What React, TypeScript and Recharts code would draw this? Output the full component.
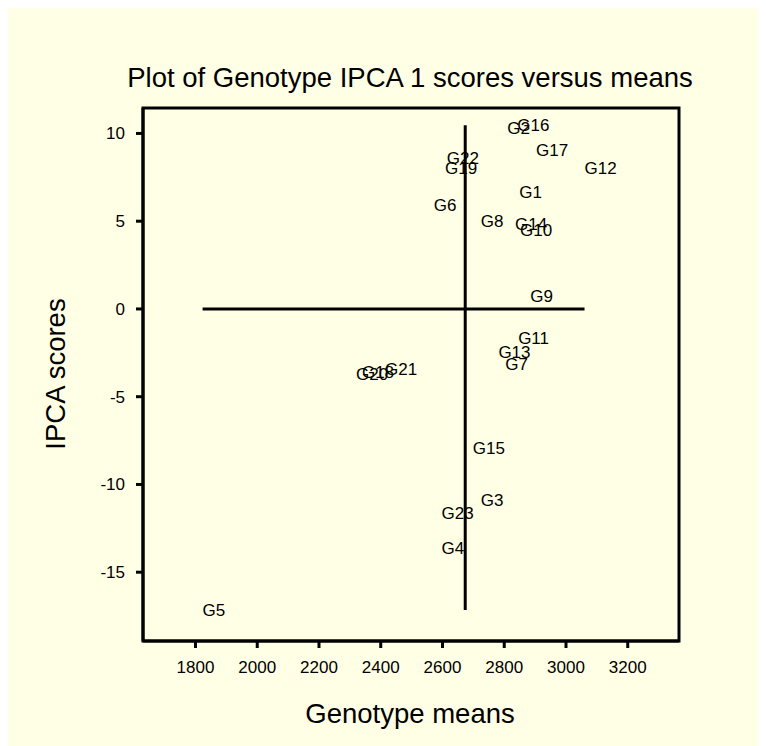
import { ScatterChart, Scatter, XAxis, YAxis, ReferenceLine, ReferenceArea, Customized } from 'recharts';

// genotype labels with their mean yield and IPCA 1 score
const genotypes = ['G1', 'G2', 'G3', 'G4', 'G5', 'G6', 'G7', 'G8', 'G9', 'G10', 'G11', 'G12', 'G13', 'G14', 'G15', 'G16', 'G17', 'G18', 'G19', 'G20', 'G21', 'G22', 'G23'];
const means = [2849, 2810, 2724, 2597, 1823, 2572, 2803, 2724, 2884, 2851, 2845, 3060, 2781, 2835, 2698, 2842, 2903, 2339, 2608, 2320, 2414, 2614, 2597];
const ipca1 = [6.67, 10.33, -10.88, -13.63, -17.15, 5.91, -3.14, 5.0, 0.76, 4.52, -1.64, 8.0, -2.48, 4.81, -7.93, 10.47, 9.03, -3.58, 8.04, -3.71, -3.42, 8.61, -11.64];

const xTicks = [1800, 2000, 2200, 2400, 2600, 2800, 3000, 3200];
const yTicks = [10, 5, 0, -5, -10, -15];

const xDomain: [number, number] = [1630, 3366];
const yDomain: [number, number] = [-18.92, 11.45];

const data = genotypes.map((name, i) => ({ name, x: means[i], y: ipca1[i] }));

const grandMean = means.reduce((a, b) => a + b, 0) / means.length;
const minX = Math.min(...means);
const maxX = Math.max(...means);
const minY = Math.min(...ipca1);
const maxY = Math.max(...ipca1);

const FONT = '"Liberation Sans", Arial, sans-serif';
const BG = '#FFFFE5';

function GenotypeLabel(props: any) {
  const { cx, cy, payload } = props;
  return (
    <text x={cx} y={cy} dy="0.35em" textAnchor="start" fontFamily={FONT} fontSize={17} fill="#000">
      {payload.name}
    </text>
  );
}

function Titles() {
  return (
    <g fontFamily={FONT} fill="#000">
      <text x={402} y={79} textAnchor="middle" fontSize={27.5}>
        Plot of Genotype IPCA 1 scores versus means
      </text>
      <text x={402} y={715} textAnchor="middle" fontSize={27.5}>
        Genotype means
      </text>
      <text x={57} y={366} textAnchor="middle" fontSize={27.5} transform="rotate(-90 57 366)">
        IPCA scores
      </text>
    </g>
  );
}

export default function App() {
  const tickStyle = { fill: '#000', fontSize: 17, fontFamily: FONT };
  return (
    <div style={{ width: 758, height: 738, background: BG }}>
      <ScatterChart width={758} height={738} margin={{ top: 100, right: 87, bottom: 0, left: 0 }}>
        <XAxis
          type="number"
          dataKey="x"
          domain={xDomain}
          ticks={xTicks}
          allowDataOverflow
          height={105}
          tickSize={7}
          tickMargin={13}
          tick={tickStyle}
          axisLine={{ stroke: '#000', strokeWidth: 3 }}
          tickLine={{ stroke: '#000', strokeWidth: 3 }}
        />
        <YAxis
          type="number"
          dataKey="y"
          domain={yDomain}
          ticks={yTicks}
          allowDataOverflow
          width={135}
          tickSize={7}
          tickMargin={11}
          tick={tickStyle}
          axisLine={{ stroke: '#000', strokeWidth: 3 }}
          tickLine={{ stroke: '#000', strokeWidth: 3 }}
        />
        <ReferenceArea
          x1={xDomain[0]}
          x2={xDomain[1]}
          y1={yDomain[0]}
          y2={yDomain[1]}
          fill="none"
          stroke="#000"
          strokeWidth={3}
          fillOpacity={0}
        />
        <ReferenceLine
          segment={[{ x: minX, y: 0 }, { x: maxX, y: 0 }]}
          stroke="#000"
          strokeWidth={3}
        />
        <ReferenceLine
          segment={[{ x: grandMean, y: minY }, { x: grandMean, y: maxY }]}
          stroke="#000"
          strokeWidth={3}
        />
        <Scatter data={data} shape={GenotypeLabel} isAnimationActive={false} />
        <Customized component={<Titles />} />
      </ScatterChart>
    </div>
  );
}
